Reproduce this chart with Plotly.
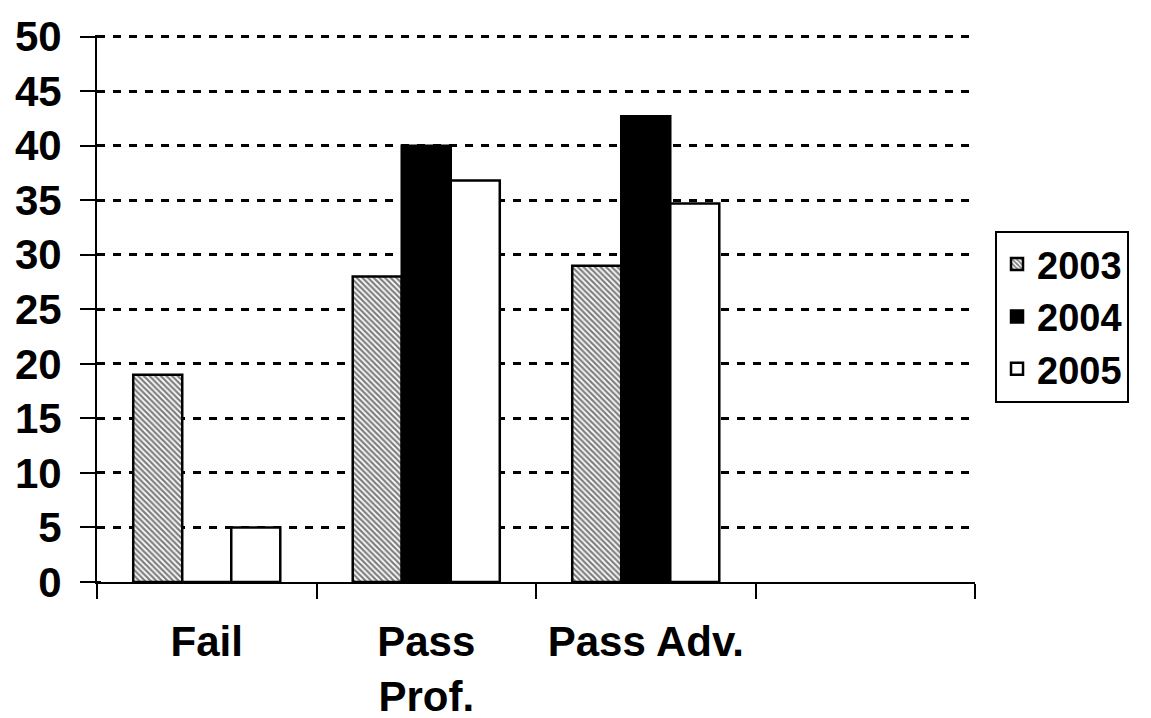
import plotly.graph_objects as go

categories = ["Fail", "Pass<br>Prof.", "Pass Adv.", " "]
years = ["2003", "2004", "2005"]
values_2003 = [19, 28, 29, None]
values_2004 = [0, 40, 42.7, None]
values_2005 = [5, 36.8, 34.7, None]
y_ticks = [0, 5, 10, 15, 20, 25, 30, 35, 40, 45, 50]

FONT = dict(family="Liberation Sans, Arial, sans-serif", size=42, color="black", weight="bold")

fig = go.Figure()
fig.add_trace(go.Bar(
    name=years[0], x=categories, y=values_2003,
    marker=dict(color="white", line=dict(color="black", width=2.5),
                pattern=dict(shape="\\", fgcolor="black", bgcolor="white", size=4, solidity=0.55)),
))
fig.add_trace(go.Bar(
    name=years[1], x=categories, y=values_2004,
    marker=dict(color="black", line=dict(color="black", width=2.5)),
))
fig.add_trace(go.Bar(
    name=years[2], x=categories, y=values_2005,
    marker=dict(color="white", line=dict(color="black", width=2.5)),
))

# the page body has an 8px margin, so the figure is offset by (8, 8)
fig.update_layout(
    width=1151, height=718,
    margin=dict(l=89, r=184, t=27, b=144, autoexpand=False),
    paper_bgcolor="white", plot_bgcolor="white",
    barmode="group", bargap=0.33, bargroupgap=0,
    font=FONT,
    showlegend=True,
    legend=dict(
        x=1.0228, xanchor="left", y=0.642, yanchor="top",
        bgcolor="white", bordercolor="black", borderwidth=2,
        font=dict(family="Liberation Sans, Arial, sans-serif", size=38, color="black", weight="bold"),
        tracegroupgap=0, itemwidth=30,
    ),
)

fig.update_xaxes(
    type="category", automargin=False,
    showline=True, linecolor="black", linewidth=2,
    ticks="outside", tickson="boundaries", ticklen=15, tickwidth=2, tickcolor="black",
    ticklabelstandoff=22,
    showgrid=False, zeroline=False,
    tickfont=FONT,
)

fig.update_yaxes(
    range=[0, 50.15], tickvals=y_ticks, ticktext=[str(v) for v in y_ticks], automargin=False,
    showline=True, linecolor="black", linewidth=2,
    ticks="outside", ticklen=15, tickwidth=2, tickcolor="black",
    minor=dict(ticks="inside", ticklen=4, tickwidth=2, tickcolor="black", tickvals=y_ticks, showgrid=False),
    ticklabelstandoff=10,
    showgrid=True, gridcolor="black", gridwidth=3, griddash="8px,8px",
    zeroline=False,
    tickfont=FONT,
)

fig.write_html("out.html")
